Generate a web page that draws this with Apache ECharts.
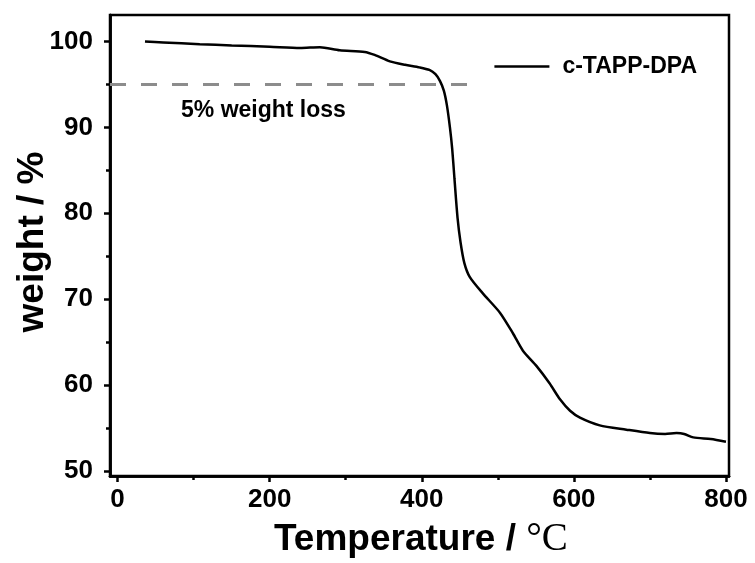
<!DOCTYPE html>
<html>
<head>
<meta charset="utf-8">
<script src="https://cdn.jsdelivr.net/npm/echarts@6/dist/echarts.min.js"></script>
<style>
  html, body { margin: 0; padding: 0; background: #fff; }
  #chart { width: 755px; height: 563px; }
</style>
</head>
<body>
<div id="chart"></div>
<script>
// TGA curve
const temperature = [36, 60, 108, 150, 200, 240, 266, 292, 325, 338, 358, 378, 397, 410, 418, 424, 429, 433, 437, 440, 443, 447, 451, 456, 463, 480, 503, 520, 533, 551, 568, 582, 595, 608, 634, 669, 700, 720, 735, 745, 757, 780, 800];
const weight = [100.0, 99.9, 99.7, 99.55, 99.4, 99.25, 99.35, 99.0, 98.8, 98.45, 97.7, 97.3, 97.0, 96.7, 96.2, 95.4, 94.3, 92.6, 90.0, 87.5, 84.0, 79.5, 76.6, 74.2, 72.6, 70.7, 68.4, 66.0, 64.0, 62.2, 60.2, 58.3, 57.0, 56.2, 55.3, 54.8, 54.4, 54.3, 54.4, 54.3, 53.9, 53.7, 53.4];
const xTicks = [0, 200, 400, 600, 800];
const xMinor = [100, 300, 500, 700];
const yTicks = [50, 60, 70, 80, 90, 100];
const yMinor = [55, 65, 75, 85, 95];
const lossLevel = 95;

const chart = echarts.init(document.getElementById('chart'));
const font = 'Liberation Sans, Arial, sans-serif';

const tickLabel = { color: '#000', fontFamily: font, fontWeight: 'bold', fontSize: 26 };

function xAxisOf(major, len, showLabel) {
  return {
    type: 'value', min: -10, max: 804, position: 'bottom',
    axisLine: { show: true, onZero: false, lineStyle: { color: '#000', width: 2.5 } },
    axisTick: { show: true, customValues: major, length: len, lineStyle: { color: '#000', width: 2.5 } },
    axisLabel: Object.assign({ show: showLabel, customValues: major, margin: 11 }, tickLabel),
    splitLine: { show: false }
  };
}
function yAxisOf(major, len, showLabel) {
  return {
    type: 'value', min: 49.4, max: 103.1, position: 'left',
    axisLine: { show: true, onZero: false, lineStyle: { color: '#000', width: 2.5 } },
    axisTick: { show: true, customValues: major, length: len, lineStyle: { color: '#000', width: 2.5 } },
    axisLabel: Object.assign({ show: showLabel, customValues: major, margin: 17 }, tickLabel),
    splitLine: { show: false }
  };
}

const option = {
  backgroundColor: '#fff',
  animation: false,
  grid: {
    left: 110, top: 15, right: 26, bottom: 87,
    show: true, borderColor: '#000', borderWidth: 2.5, backgroundColor: 'transparent'
  },
  xAxis: [xAxisOf(xTicks, 6, true), xAxisOf(xMinor, 4, false)],
  yAxis: [yAxisOf(yTicks, 6, true), yAxisOf(yMinor, 4, false)],
  legend: {
    show: true, right: 53, top: 50,
    icon: 'rect', itemWidth: 55, itemHeight: 2.5, itemGap: 0,
    textStyle: { color: '#000', fontFamily: font, fontWeight: 'bold', fontSize: 23, padding: [0, 0, 0, 8] },
    data: ['c-TAPP-DPA']
  },
  graphic: [
    {
      type: 'text', left: 181, top: 99,
      style: { text: '5% weight loss', fill: '#000', font: 'bold 23px Liberation Sans, Arial, sans-serif' }
    },
    {
      type: 'text', left: 274, top: 520,
      style: {
        text: '{a|Temperature / }{b|°C}',
        rich: {
          a: { fill: '#000', fontFamily: font, fontWeight: 'bold', fontSize: 37 },
          b: { fill: '#000', fontFamily: 'Liberation Serif, Times New Roman, serif', fontSize: 39 }
        }
      }
    },
    {
      type: 'text', x: 33, y: 242, rotation: Math.PI / 2,
      style: {
        text: 'weight / %', fill: '#000', align: 'center', verticalAlign: 'middle',
        font: 'bold 37px Liberation Sans, Arial, sans-serif'
      }
    }
  ],
  series: [
    {
      name: 'c-TAPP-DPA', type: 'line', smooth: 0.25, showSymbol: false,
      xAxisIndex: 0, yAxisIndex: 0,
      lineStyle: { color: '#000', width: 2.5 },
      itemStyle: { color: '#000' },
      data: temperature.map((t, i) => [t, weight[i]]),
      markLine: {
        silent: true, symbol: 'none',
        lineStyle: { color: '#8c8c8c', width: 3, type: [16, 15] },
        label: { show: false },
        data: [[{ coord: [-10, lossLevel] }, { coord: [470, lossLevel] }]]
      }
    }
  ]
};
chart.setOption(option);
</script>
</body>
</html>
